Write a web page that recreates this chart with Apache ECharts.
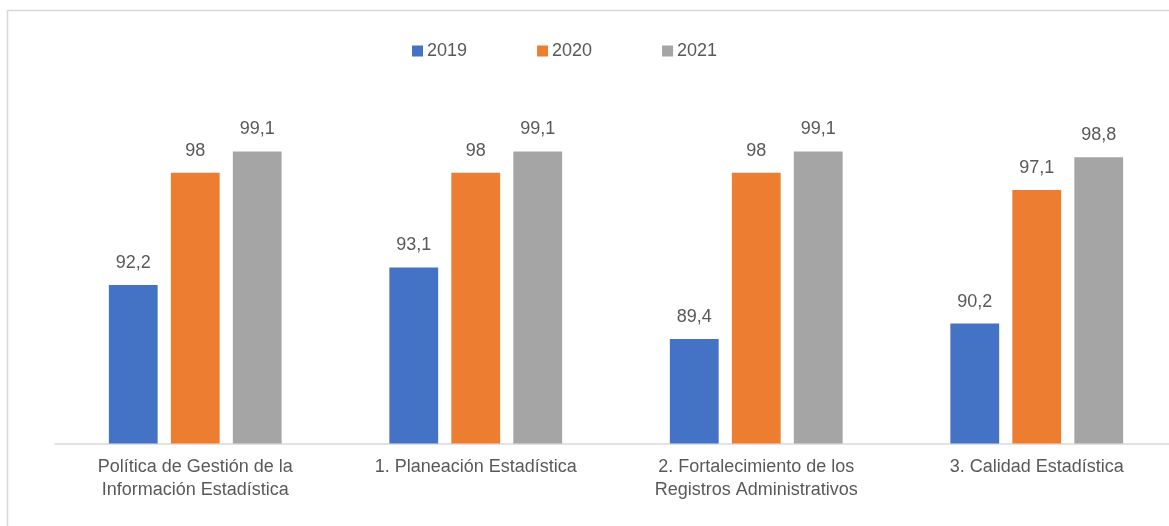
<!DOCTYPE html>
<html>
<head>
<meta charset="utf-8">
<script src="https://cdn.jsdelivr.net/npm/echarts@6/dist/echarts.min.js"></script>
<style>
html,body{margin:0;padding:0;background:#fff;overflow:hidden;width:1169px;height:526px;}
#chart{width:1177px;height:526px;}
</style>
</head>
<body>
<div id="chart"></div>
<script>
const categories = ["Política de Gestión de la\nInformación Estadística", "1. Planeación Estadística", "2. Fortalecimiento de los\nRegistros Administrativos", "3. Calidad Estadística"];
const seriesNames = ["2019", "2020", "2021"];
const values2019 = [92.2, 93.1, 89.4, 90.2];
const values2020 = [98, 98, 98, 97.1];
const values2021 = [99.1, 99.1, 99.1, 98.8];
const colors = ["#4472C4", "#ED7D31", "#A5A5A5"];

const FONT = "'Liberation Sans', Arial, sans-serif";
const TXT = "#595959";
const fmt = p => String(p.value).replace('.', ',');

const chart = echarts.init(document.getElementById('chart'), null, {renderer: 'canvas'});
const allValues = [values2019, values2020, values2021];
chart.setOption({
  animation: false,
  backgroundColor: '#fff',
  color: colors,
  graphic: [{
    type: 'rect', silent: true, z: -1,
    shape: {x: 7.5, y: 10.5, width: 1200, height: 600},
    style: {fill: 'none', stroke: '#d9d9d9', lineWidth: 1.5}
  }],
  legend: {
    left: 407, top: 37, padding: 5,
    itemWidth: 11, itemHeight: 11, itemGap: 70,
    icon: 'rect',
    textStyle: {color: TXT, fontSize: 18, fontFamily: FONT, padding: [0,0,0,-1]},
    data: seriesNames
  },
  grid: {left: 55, right: 0, top: 134, bottom: 82.5},
  xAxis: {
    type: 'category',
    data: categories,
    axisLine: {lineStyle: {color: '#d9d9d9', width: 1.5}},
    axisTick: {show: false},
    axisLabel: {color: TXT, fontSize: 18, fontFamily: FONT, lineHeight: 23, margin: 12, interval: 0}
  },
  yAxis: {type: 'value', min: 84, max: 100, show: false, splitLine: {show: false}},
  series: seriesNames.map((n, i) => ({
    name: n, type: 'bar', data: allValues[i],
    barWidth: '17.4%', barGap: '27%',
    label: {show: true, position: 'top', distance: 13, color: TXT, fontSize: 18, fontFamily: FONT, formatter: fmt}
  }))
});
</script>
</body>
</html>
